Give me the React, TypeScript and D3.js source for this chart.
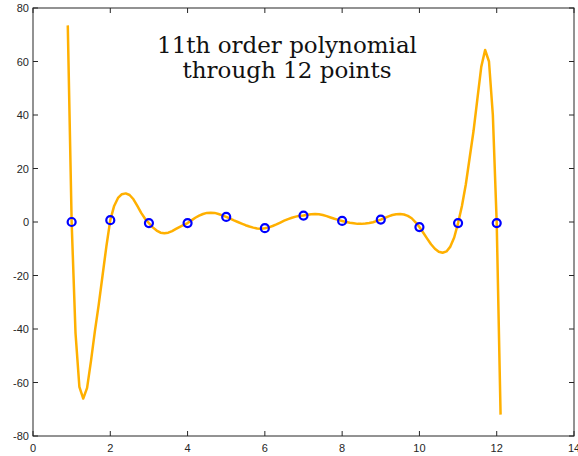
import React from "react";
import * as d3 from "d3";

const pointX = [1, 2, 3, 4, 5, 6, 7, 8, 9, 10, 11, 12];
const pointY = [0, 0.7, -0.4, -0.4, 1.9, -2.3, 2.4, 0.4, 0.9, -1.9, -0.4, -0.4];

const curveStart = 0.9;
const curveStep = 0.1;
const curveY = [
  73.5, 0, -41.5, -61.6, -66, -62, -52, -41, -31, -20, -9,
  0.7, 6.0, 9.0, 10.4, 10.7, 10.1, 8.5, 6.0, 3.4, 1.2,
  -0.4, -2.0, -3.2, -4.0, -4.2, -4.0, -3.4, -2.6, -1.8, -1.1,
  -0.4, 0.6, 1.6, 2.4, 3.0, 3.4, 3.5, 3.4, 3.0, 2.5,
  1.9, 1.3, 0.6, 0.0, -0.6, -1.2, -1.7, -2.1, -2.4, -2.5,
  -2.3, -2.0, -1.5, -0.9, -0.2, 0.5, 1.1, 1.6, 2.0, 2.3,
  2.4, 2.7, 2.9, 3.0, 2.9, 2.6, 2.2, 1.7, 1.2, 0.8,
  0.4, 0.0, -0.3, -0.5, -0.7, -0.7, -0.6, -0.4, -0.1, 0.4,
  0.9, 1.5, 2.1, 2.6, 2.9, 3.0, 2.8, 2.3, 1.4, -0.1,
  -1.9, -4.0, -6.2, -8.3, -10.0, -11.1, -11.5, -11.0, -9.2, -5.8,
  -0.4, 6, 14, 24, 34, 46, 58, 64.3, 60, 40,
  -0.4, -72,
];

const xTicks = [0, 2, 4, 6, 8, 10, 12, 14];
const yTicks = [-80, -60, -40, -20, 0, 20, 40, 60, 80];
const titleLines = ["11th order polynomial", "through 12 points"];

export default function App() {
  const W = 578, H = 456;
  const left = 33, right = 574, top = 8, bottom = 436;
  const x = d3.scaleLinear().domain([0, 14]).range([left, right]);
  const y = d3.scaleLinear().domain([-80, 80]).range([bottom, top]);
  const curvePts: [number, number][] = curveY.map((v, i) => [curveStart + i * curveStep, v]);
  const line = d3.line<[number, number]>().x(d => x(d[0])).y(d => y(d[1]));
  const axisColor = "#262626";
  const tickLen = 5;
  return (
    <svg width={W} height={H} style={{ position: "absolute", left: 0, top: 0, background: "#fff" }}>
      <rect x={0} y={0} width={W} height={H} fill="#fff" />
      <path d={line(curvePts) || ""} fill="none" stroke="#FFB000" strokeWidth={2.5} strokeLinejoin="round" />
      {pointX.map((px, i) => (
        <circle key={i} cx={x(px)} cy={y(pointY[i])} r={4} fill="none" stroke="#0000FF" strokeWidth={2.2} />
      ))}
      <g stroke={axisColor} strokeWidth={1}>
        <rect x={left} y={top} width={right - left} height={bottom - top} fill="none" />
        {xTicks.map(t => (
          <g key={"x" + t}>
            <line x1={x(t)} x2={x(t)} y1={bottom} y2={bottom - tickLen} />
            <line x1={x(t)} x2={x(t)} y1={top} y2={top + tickLen} />
          </g>
        ))}
        {yTicks.map(t => (
          <g key={"y" + t}>
            <line x1={left} x2={left + tickLen} y1={y(t)} y2={y(t)} />
            <line x1={right} x2={right - tickLen} y1={y(t)} y2={y(t)} />
          </g>
        ))}
      </g>
      <g fontFamily="'Liberation Sans', Arial, sans-serif" fontSize={11} fill={axisColor}>
        {xTicks.map(t => (
          <text key={"xl" + t} x={x(t)} y={bottom + 16} textAnchor="middle">{t}</text>
        ))}
        {yTicks.map(t => (
          <text key={"yl" + t} x={left - 4} y={y(t) + 4} textAnchor="end">{t}</text>
        ))}
      </g>
      <g fontFamily="'DejaVu Serif', 'Liberation Serif', serif" fontSize={23} fill="#111" textAnchor="middle">
        {titleLines.map((s, i) => (
          <text key={i} x={287} y={53 + i * 25}>{s}</text>
        ))}
      </g>
    </svg>
  );
}
